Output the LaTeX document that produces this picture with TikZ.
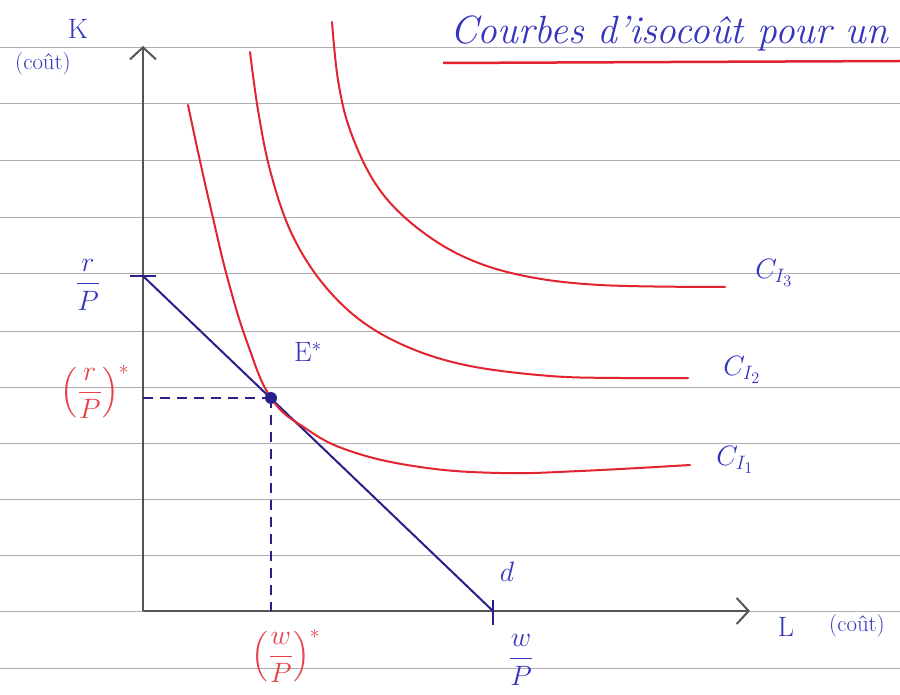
\documentclass[tikz,border=0pt]{standalone}
\usepackage{amsmath}
\usetikzlibrary{arrows.meta}
\definecolor{ink}{RGB}{52,52,190}
\definecolor{navy}{RGB}{40,32,140}
\definecolor{redink}{RGB}{226,36,48}
\definecolor{redlab}{RGB}{232,64,72}
\definecolor{paper}{RGB}{175,175,175}
\definecolor{axisc}{RGB}{85,85,85}
\tikzset{
  ruled/.style={paper, line width=1pt},
  axisline/.style={axisc, line width=2pt, -{Straight Barb[length=12pt,width=26pt,line width=2pt]}},
  curve/.style={redink, line width=2pt, line cap=round},
  budget/.style={navy, line width=2pt},
  guide/.style={navy, line width=2pt, dash pattern=on 10pt off 7pt},
  tick/.style={navy, line width=2pt},
  lab/.style={ink, font=\huge, scale=1.35, transform shape, inner sep=0pt},
  rlab/.style={redlab, font=\huge, scale=1.35, transform shape, inner sep=0pt},
  small/.style={ink, font=\huge, scale=1.1, transform shape, inner sep=0pt},
  titlestyle/.style={ink, font=\huge\itshape, scale=1.9, transform shape, inner sep=0pt}
}
\begin{document}
\begin{tikzpicture}[x=1pt,y=-1pt]
\useasboundingbox (0,0) rectangle (900,695);
\fill[white] (0,0) rectangle (900,695);
% ruled paper
\foreach \yy in {48,104,161,218,274,331,387,443,499,555,611,668}
  \draw[ruled] (0,\yy) -- (900,\yy);
% title
\node[titlestyle, anchor=base west] (title) at (450,44) {Courbes d'isoco\^ut pour un};
\draw[redink, line width=2.5pt] (443,63) -- (900,61);
% axes
\coordinate (O) at (143,611);
\coordinate (ytop) at (143,46);
\coordinate (xend) at (750,611);
\draw[axisline] (O) -- (ytop);
\draw[axisline] (O) -- (xend);
\node[lab, anchor=center] (K) at (78,29) {K};
\node[small, anchor=center] (kc) at (43,64) {(co\^ut)};
\node[lab, anchor=center] (L) at (786,627) {L};
\node[small, anchor=center] (lc) at (857,626) {(co\^ut)};
% budget line
\coordinate (A) at (143,276);
\coordinate (B) at (493,611);
\coordinate (E) at (271,398);
\draw[budget] (A) -- (B);
\draw[tick] (130,276) -- (156,276);
\draw[tick] (493,600) -- (493,625);
% guides
\coordinate (Ey) at (143,398);
\coordinate (Ex) at (271,611);
\draw[guide] (Ey) -- (E);
\draw[guide] (E) -- (Ex);
% indifference curves
\draw[curve] plot[smooth, tension=0.7] coordinates {(188,105) (200,161) (213,218) (228,280) (247,342) (271,398) (305,428) (350,451) (420,467) (500,473) (580,471) (690,465)};
\draw[curve] plot[smooth, tension=0.6] coordinates {(250,52) (258,110) (270,170) (290,230) (320,280) (360,320) (410,348) (470,366) (550,376) (620,378) (688,378)};
\draw[curve] plot[smooth, tension=0.6] coordinates {(332,22) (338,80) (350,130) (375,183) (410,222) (460,255) (520,275) (600,285) (725,287)};
% point E*
\fill[navy] (E) circle (6pt);
\node[lab, anchor=center] (Elab) at (308,352) {E$^{\ast}$};
% labels
\node[lab, anchor=center] (rP) at (88,285) {$\dfrac{r}{P}$};
\node[rlab, anchor=center] (rPs) at (95,392) {$\Bigl(\dfrac{r}{P}\Bigr)^{\ast}$};
\node[rlab, anchor=center] (wPs) at (286,656) {$\Bigl(\dfrac{w}{P}\Bigr)^{\ast}$};
\node[lab, anchor=center] (wP) at (521,660) {$\dfrac{w}{P}$};
\node[lab, anchor=center] (d) at (507,572) {$d$};
\node[lab, anchor=center] (c3) at (774,273) {$C_{I_3}$};
\node[lab, anchor=center] (c2) at (742,370) {$C_{I_2}$};
\node[lab, anchor=center] (c1) at (735,460) {$C_{I_1}$};
\end{tikzpicture}
\end{document}
